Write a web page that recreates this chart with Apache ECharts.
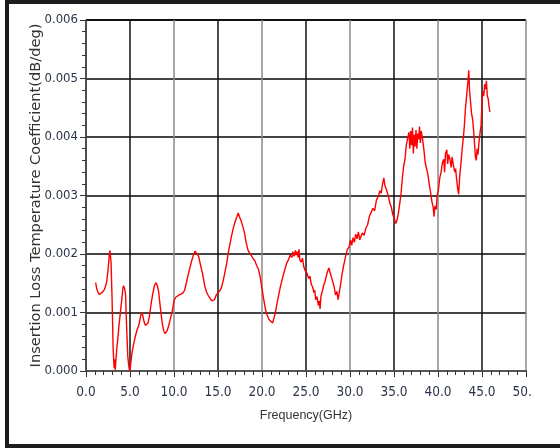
<!DOCTYPE html>
<html>
<head>
<meta charset="utf-8">
<script src="https://cdn.jsdelivr.net/npm/echarts@6/dist/echarts.min.js"></script>
<style>
html,body{margin:0;padding:0;background:#fff;}
#wrap{position:relative;width:560px;height:448px;overflow:hidden;background:#fff;}
#clip{position:absolute;left:0;top:0;width:532px;height:448px;overflow:hidden;}
#chart{position:absolute;left:0;top:0;width:560px;height:448px;}
.b{position:absolute;background:#1c1c1c;}
</style>
</head>
<body>
<div id="wrap">
<div id="clip"><div id="chart"></div></div>
<div class="b" style="left:5px;top:0;width:555px;height:4px;"></div>
<div class="b" style="left:5px;top:0;width:4px;height:448px;"></div>
<div class="b" style="left:5px;top:444px;width:555px;height:4px;"></div>
</div>
<script>
// Frequency (GHz)
const freq = [
1.1,1.2,1.35,1.5,1.6,1.75,1.9,2.05,2.2,2.35,2.5,2.6,2.7,2.75,2.85,2.95,3.0,3.08,3.15,3.2,3.25,3.32,3.4,3.5,3.6,3.75,3.9,4.05,4.2,4.28,4.4,4.5,4.58,4.65,4.75,4.85,4.95,5.05,5.2,5.4,5.6,5.8,6.0,6.2,6.33,6.45,6.6,6.75,6.9,7.05,7.2,7.4,7.6,7.8,7.95,8.1,8.25,8.4,8.55,8.7,8.85,9.0,9.1,9.25,9.4,9.6,9.8,10.0,10.2,10.4,10.6,10.8,11.0,11.2,11.4,11.6,11.8,12.0,12.2,12.4,12.6,12.8,13.0,13.25,13.5,13.7,13.9,14.1,14.3,14.45,14.6,14.8,15.0,15.2,15.4,15.6,15.8,16.0,16.2,16.5,16.7,16.9,17.1,17.3,17.45,17.6,17.8,18.0,18.2,18.4,18.6,18.8,19.0,19.2,19.4,19.6,19.8,20.0,20.2,20.4,20.6,20.8,21.0,21.2,21.35,21.5,21.7,21.9,22.1,22.35,22.6,22.8,23.0,23.2,23.4,23.5,23.65,23.8,23.9,24.0,24.1,24.2,24.3,24.45,24.6,24.75,24.9,25.0,25.15,25.3,25.45,25.6,25.75,25.9,26.0,26.1,26.25,26.4,26.5,26.6,26.7,26.85,27.0,27.15,27.3,27.45,27.6,27.75,27.9,28.05,28.2,28.35,28.5,28.65,28.8,28.95,29.1,29.3,29.5,29.7,29.9,30.05,30.2,30.35,30.5,30.65,30.8,30.95,31.1,31.25,31.4,31.6,31.8,32.0,32.2,32.4,32.6,32.8,33.0,33.2,33.4,33.55,33.7,33.85,33.95,34.1,34.25,34.4,34.55,34.7,34.85,35.0,35.2,35.35,35.5,35.65,35.8,35.95,36.1,36.25,36.4,36.55,36.7,36.8,36.9,37.0,37.1,37.2,37.3,37.4,37.5,37.6,37.7,37.8,37.9,38.0,38.1,38.25,38.4,38.55,38.7,38.85,39.0,39.15,39.3,39.45,39.55,39.65,39.8,39.9,40.05,40.2,40.35,40.5,40.65,40.75,40.85,41.0,41.1,41.2,41.35,41.5,41.6,41.75,41.9,42.0,42.1,42.25,42.35,42.45,42.6,42.75,42.9,43.0,43.1,43.25,43.4,43.5,43.58,43.7,43.8,43.95,44.05,44.15,44.25,44.35,44.45,44.55,44.65,44.8,44.9,45.0,45.1,45.2,45.3,45.4,45.5,45.6,45.7,45.8,45.9
];
// Insertion loss temperature coefficient, in units of 0.001 dB/deg
const coefMilli = [
1.51,1.42,1.35,1.31,1.29,1.33,1.34,1.38,1.44,1.52,1.72,1.90,2.06,2.02,1.85,1.30,0.98,0.40,0.18,0.05,0.20,0.02,0.19,0.38,0.53,0.78,0.99,1.20,1.42,1.46,1.40,1.30,0.90,0.62,0.25,0.10,0.00,0.08,0.28,0.45,0.59,0.70,0.78,0.93,1.00,0.95,0.84,0.78,0.76,0.82,0.93,1.15,1.33,1.47,1.51,1.46,1.36,1.15,0.95,0.78,0.68,0.64,0.66,0.70,0.78,0.90,1.02,1.20,1.26,1.25,1.30,1.29,1.33,1.38,1.50,1.64,1.76,1.88,1.98,2.05,2.02,1.96,1.82,1.66,1.45,1.35,1.29,1.24,1.20,1.17,1.22,1.30,1.33,1.37,1.43,1.55,1.70,1.85,2.05,2.28,2.42,2.53,2.62,2.70,2.63,2.58,2.48,2.37,2.20,2.07,2.01,1.97,1.92,1.88,1.80,1.74,1.60,1.41,1.22,1.05,0.95,0.88,0.85,0.82,0.90,0.98,1.15,1.30,1.45,1.60,1.74,1.84,1.90,1.98,1.94,2.04,1.96,2.06,1.98,2.04,1.94,2.08,1.90,1.86,1.93,1.78,1.72,1.69,1.66,1.58,1.62,1.48,1.44,1.34,1.38,1.22,1.27,1.12,1.20,1.06,1.28,1.36,1.46,1.52,1.62,1.70,1.76,1.68,1.60,1.52,1.44,1.30,1.36,1.22,1.36,1.50,1.66,1.82,1.96,2.08,2.12,2.24,2.15,2.28,2.20,2.34,2.26,2.38,2.24,2.30,2.36,2.32,2.44,2.50,2.64,2.62,2.78,2.74,2.92,2.98,3.08,3.04,3.20,3.30,3.18,3.20,3.05,2.96,2.86,2.80,2.68,2.62,2.52,2.58,2.70,2.86,3.03,3.30,3.50,3.62,3.86,3.98,4.08,3.80,4.10,3.86,4.16,3.72,4.04,3.84,4.12,3.80,4.06,3.96,4.18,3.90,4.10,3.96,3.78,3.56,3.46,3.36,3.20,3.06,2.90,2.80,2.64,2.82,2.76,3.00,3.10,3.30,3.40,3.56,3.62,3.40,3.72,3.78,3.54,3.70,3.62,3.48,3.66,3.52,3.40,3.46,3.30,3.10,3.02,3.30,3.54,3.80,4.02,4.20,4.45,4.70,4.95,5.14,4.80,4.60,4.42,4.28,4.10,3.90,3.66,3.60,3.80,3.70,3.90,4.10,4.20,4.62,4.78,4.70,4.90,4.82,4.96,4.70,4.66,4.52,4.43
];
const xTicks = [0,5,10,15,20,25,30,35,40,45,50];
const yTicks = [0,0.001,0.002,0.003,0.004,0.005,0.006];

const chart = echarts.init(document.getElementById('chart'), null, {renderer:'canvas'});
const seriesData = freq.map((f,i)=>[f, coefMilli[i]/1000]);
const labelFont = "'DejaVu Sans Condensed','Liberation Sans',sans-serif";
chart.setOption({
  animation:false,
  backgroundColor:'#fff',
  grid:{left:86,right:34,top:20,bottom:77,containLabel:false},
  xAxis:{
    type:'value', min:xTicks[0], max:xTicks[xTicks.length-1], interval:5,
    name:'Frequency(GHz)', nameLocation:'middle', nameGap:38, nameMoveOverlap:false,
    nameTextStyle:{fontFamily:"'Liberation Sans',sans-serif",fontSize:12.5,color:'#333'},
    axisLine:{show:true,onZero:false,lineStyle:{color:'#555',width:2}},
    axisTick:{show:true,length:6,lineStyle:{color:'#333',width:1}},
    minorTick:{show:true,splitNumber:5,length:4,lineStyle:{color:'#333',width:1}},
    axisLabel:{margin:14,fontFamily:labelFont,fontSize:13.5,color:'#2b3448',
      formatter:v=>v.toFixed(1)},
    splitLine:{show:true,lineStyle:{color:['#888','#111'],width:[1.5]}}
  },
  yAxis:{
    type:'value', min:yTicks[0], max:yTicks[yTicks.length-1], interval:0.001,
    name:'Insertion Loss Temperature Coefficient(dB/deg)', nameLocation:'middle', nameGap:42, nameMoveOverlap:false,
    nameTextStyle:{fontFamily:"'DejaVu Sans',sans-serif",fontSize:14.6,color:'#333'},
    axisLine:{show:true,lineStyle:{color:'#333',width:1.5}},
    axisTick:{show:true,length:6,lineStyle:{color:'#333',width:1}},
    minorTick:{show:true,splitNumber:5,length:4,lineStyle:{color:'#333',width:1}},
    axisLabel:{margin:8,fontFamily:labelFont,fontSize:13,color:'#2b3448',
      formatter:v=>v.toFixed(3)},
    splitLine:{show:true,lineStyle:{color:['#444','#444','#444','#444','#444','#444','#111'],width:1.8}}
  },
  series:[{
    type:'line', data:seriesData, showSymbol:false, symbol:'none',
    lineStyle:{color:'#ff0000',width:1.4}, clip:true
  }]
});
</script>
</body>
</html>
